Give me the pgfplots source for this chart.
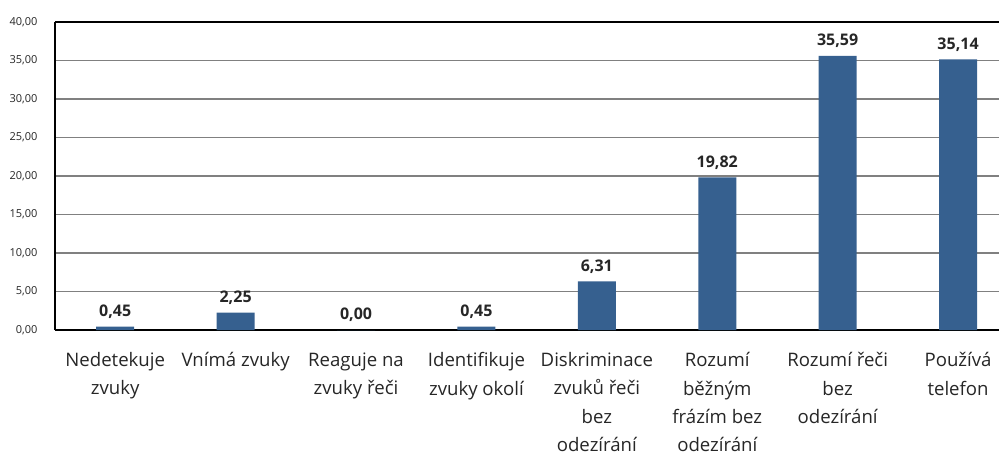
\documentclass[border=0pt]{standalone}
\usepackage{fontspec}
\setmainfont{Open Sans}
\usepackage{pgfplots}
\pgfplotsset{compat=1.18}
\definecolor{barblue}{HTML}{36608F}
\definecolor{gridgray}{HTML}{808080}
\definecolor{txt}{HTML}{262626}
\begin{document}
\begin{tikzpicture}[x=1pt,y=1pt]
\begin{axis}[
  at={(55pt,125pt)}, anchor=south west,
  scale only axis, width=944pt, height=308pt,
  xmin=-0.5, xmax=7.34, ymin=0, ymax=40,
  ytick={0,5,...,40},
  xtick={0,...,7},
  xticklabels={
    {Nedetekuje\\zvuky},
    {Vnímá zvuky},
    {Reaguje na\\zvuky řeči},
    {Identifikuje\\zvuky okolí},
    {Diskriminace\\zvuků řeči\\bez\\odezírání},
    {Rozumí\\běžným\\frázím bez\\odezírání},
    {Rozumí řeči\\bez\\odezírání},
    {Používá\\telefon}},
  axis x line=box, axis y line=left,
  axis line style={black, line width=1.5pt, -},
  major tick length=0pt,
  ymajorgrids, major grid style={gridgray, line width=1.6pt},
  /pgf/number format/assume math mode=true,
  y tick label style={/pgf/number format/.cd, use comma, fixed, fixed zerofill, precision=2, /tikz/.cd,
    font=\fontsize{11}{13}\selectfont, text=txt, anchor=east, xshift=-14pt},
  x tick label style={font=\fontsize{18.6}{28.3}\selectfont, text=txt, align=center, anchor=north, yshift=-19pt},
  ybar, bar width=38pt,
  nodes near coords,
  nodes near coords style={/pgf/number format/.cd, use comma, fixed, fixed zerofill, precision=2, /tikz/.cd,
    font=\fontsize{16}{18}\selectfont\bfseries, text=txt, anchor=base, inner sep=0pt, yshift=10pt},
]
\addplot[fill=barblue, draw=none] coordinates {
(0,0.45) (1,2.25) (2,0.00) (3,0.45) (4,6.31) (5,19.82) (6,35.59) (7,35.14)
};
\end{axis}
\pgfresetboundingbox
\path[use as bounding box] (0,0) rectangle (999pt,455pt);
\end{tikzpicture}
\end{document}
